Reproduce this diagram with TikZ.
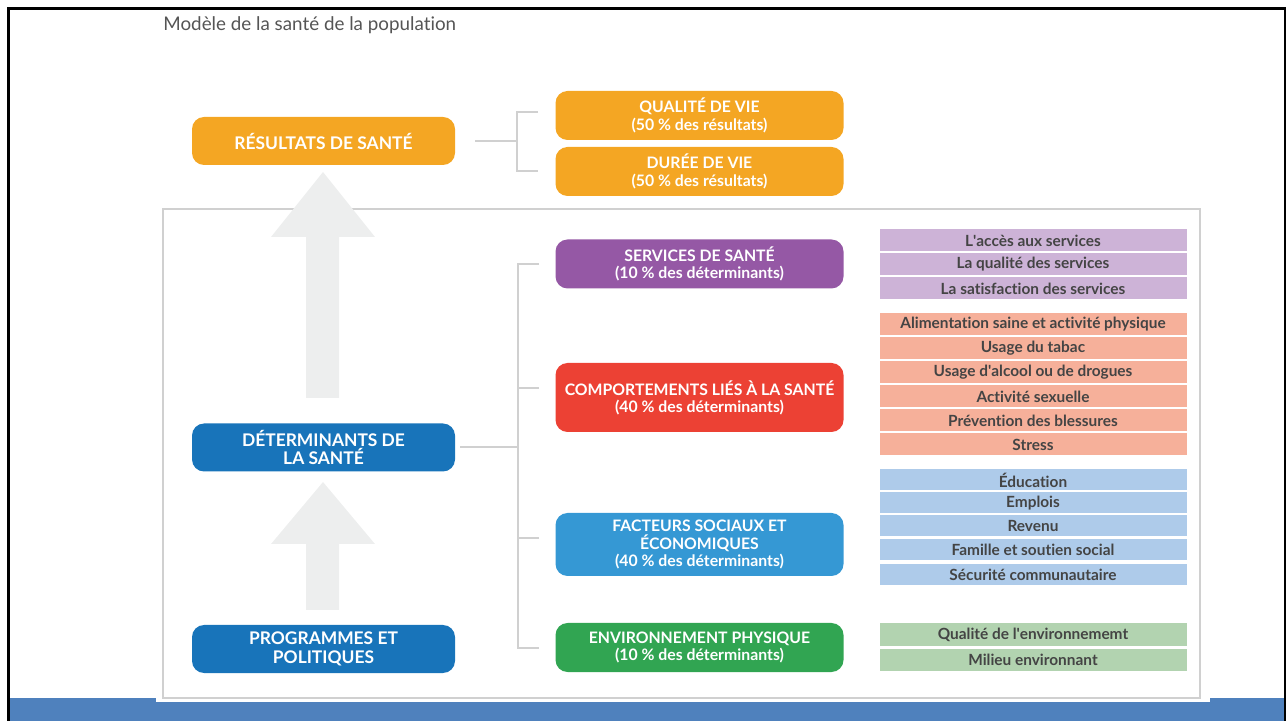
\documentclass[tikz,border=0pt]{standalone}
\usepackage{fontspec}
\setmainfont{Lato}[Ligatures={TeX,NoCommon}]

\definecolor{orangeres}{HTML}{F4A623}
\definecolor{bluedet}{HTML}{1874BA}
\definecolor{purpleserv}{HTML}{9558A5}
\definecolor{redcomp}{HTML}{EC4134}
\definecolor{bluefact}{HTML}{3598D4}
\definecolor{greenenv}{HTML}{31A552}
\definecolor{lpurple}{HTML}{CDB3D7}
\definecolor{lsalmon}{HTML}{F6B09A}
\definecolor{lblue}{HTML}{AECBEA}
\definecolor{lgreen}{HTML}{B2D3B0}
\definecolor{arrowgray}{HTML}{EDEEEE}
\definecolor{linegray}{HTML}{D0D0D0}
\definecolor{bandblue}{HTML}{4F81BD}
\definecolor{textgray}{HTML}{444444}
\definecolor{titlegray}{HTML}{555555}

\begin{document}
\begin{tikzpicture}[x=0.5pt,y=-0.5pt,
                    bigbox/.style={rounded corners=6pt, minimum width=131.5pt, minimum height=24pt,
                                   inner sep=0pt, align=center, text=white,
                                   font=\bfseries\fontsize{8.7}{9.2}\selectfont},
                    midbox/.style={rounded corners=6pt, minimum width=144pt, minimum height=24.5pt,
                                   inner sep=0pt, align=center, text=white,
                                   font=\bfseries\fontsize{7.9}{8.6}\selectfont},
                    item/.style={minimum width=154pt, minimum height=11.5pt, inner sep=0pt,
                                 draw=white, line width=0.5pt,
                                 text=textgray, font=\bfseries\fontsize{7.7}{8}\selectfont},
                    link/.style={draw=linegray, line width=1pt},
                    ]

                    \useasboundingbox (0,0) rectangle (1286,721);

                    % slide frame and band
                    \fill[bandblue] (9,698) rectangle (1285,721);
                    \fill[white] (156,690) rectangle (1210,702);
                    \draw[line width=1.4pt] (8.7,721) -- (8.7,8.7) -- (1285,8.7) -- (1285,721);

                    \node[anchor=west, inner sep=0pt, text=titlegray, font=\fontsize{9.4}{11}\selectfont] (titre) at (163,25) {Modèle de la santé de la population};

                    \draw[linegray, line width=1pt] (163,209) rectangle (1200,698);

                    % big arrows
                    \fill[arrowgray] (306,398) -- (306,237) -- (271,237) -- (323,172) -- (375,237) -- (339,237) -- (339,398) -- cycle;
                    \fill[arrowgray] (306,610) -- (306,544) -- (271,544) -- (323,482) -- (375,544) -- (339,544) -- (339,610) -- cycle;

                    % left column
                    \node[bigbox, fill=orangeres] (res) at (323.5,141) {RÉSULTATS DE SANTÉ};
                    \node[bigbox, fill=bluedet] (det) at (323.5,447.5) {DÉTERMINANTS DE\\LA SANTÉ};
                    \node[bigbox, fill=bluedet] (prog) at (323.5,649) {PROGRAMMES ET\\POLITIQUES};

                    % middle column
                    \node[midbox, fill=orangeres] (qual) at (699.5,115.5) {QUALITÉ DE VIE\\(50 \% des résultats)};
                    \node[midbox, fill=orangeres] (duree) at (699.5,171.5) {DURÉE DE VIE\\(50 \% des résultats)};
                    \node[midbox, fill=purpleserv] (serv) at (699.5,264) {SERVICES DE SANTÉ\\(10 \% des déterminants)};
                    \node[midbox, fill=redcomp, minimum height=34.5pt] (comp) at (699.5,397.5) {COMPORTEMENTS LIÉS À LA SANTÉ\\(40 \% des déterminants)};
                    \node[midbox, fill=bluefact, minimum height=31.5pt] (fact) at (699.5,544.5) {FACTEURS SOCIAUX ET\\ÉCONOMIQUES\\(40 \% des déterminants)};
                    \node[midbox, fill=greenenv] (env) at (699.5,647.5) {ENVIRONNEMENT PHYSIQUE\\(10 \% des déterminants)};

                    % connectors
                    \coordinate (bushaut) at (517,141);
                    \draw[link] ([xshift=10pt]res.east) -- (bushaut);
                    \draw[link] ([xshift=-8.5pt,yshift=1.75pt]qual.west) -| (bushaut) |- ([xshift=-8.5pt]duree.west);

                    \coordinate (busbas) at ([xshift=-18.5pt]serv.west);
                    \draw[link] ([xshift=2.5pt]det.east) -- (det.east -| busbas);
                    \draw[link] ([xshift=-8pt]serv.west) -- (busbas) -- (env.west -| busbas) -- ([xshift=-8pt]env.west);
                    \draw[link] ([xshift=-8pt,yshift=4.75pt]comp.west) -- ([xshift=-18.5pt,yshift=4.75pt]comp.west);
                    \draw[link] ([xshift=-8pt,yshift=3.25pt]fact.west) -- ([xshift=-18.5pt,yshift=3.25pt]fact.west);

                    % lists
                    \node[item, fill=lpurple] (s1) at (1033,240.5) {L\textquotesingle accès aux services};
                    \node[item, fill=lpurple] (s2) at (1033,264) {La qualité des services};
                    \node[item, fill=lpurple] (s3) at (1033,288.5) {La satisfaction des services};

                    \node[item, fill=lsalmon] (c1) at (1033,324.5) {Alimentation saine et activité physique};
                    \node[item, fill=lsalmon] (c2) at (1033,348.5) {Usage du tabac};
                    \node[item, fill=lsalmon] (c3) at (1033,372.5) {Usage d\textquotesingle alcool ou de drogues};
                    \node[item, fill=lsalmon] (c4) at (1033,396.5) {Activité sexuelle};
                    \node[item, fill=lsalmon] (c5) at (1033,420.5) {Prévention des blessures};
                    \node[item, fill=lsalmon] (c6) at (1033,444.5) {Stress};

                    \node[item, fill=lblue, minimum height=11pt] (f1) at (1033,480) {Éducation};
                    \node[item, fill=lblue, minimum height=11pt] (f2) at (1033,503) {Emplois};
                    \node[item, fill=lblue, minimum height=11pt] (f3) at (1033,526) {Revenu};
                    \node[item, fill=lblue, minimum height=11pt] (f4) at (1033,550) {Famille et soutien social};
                    \node[item, fill=lblue, minimum height=11pt] (f5) at (1033,575) {Sécurité communautaire};

                    \node[item, fill=lgreen] (e1) at (1033,634.5) {Qualité de l\textquotesingle environnememt};
                    \node[item, fill=lgreen] (e2) at (1033,659.5) {Milieu environnant};

                \end{tikzpicture}
\end{document}
